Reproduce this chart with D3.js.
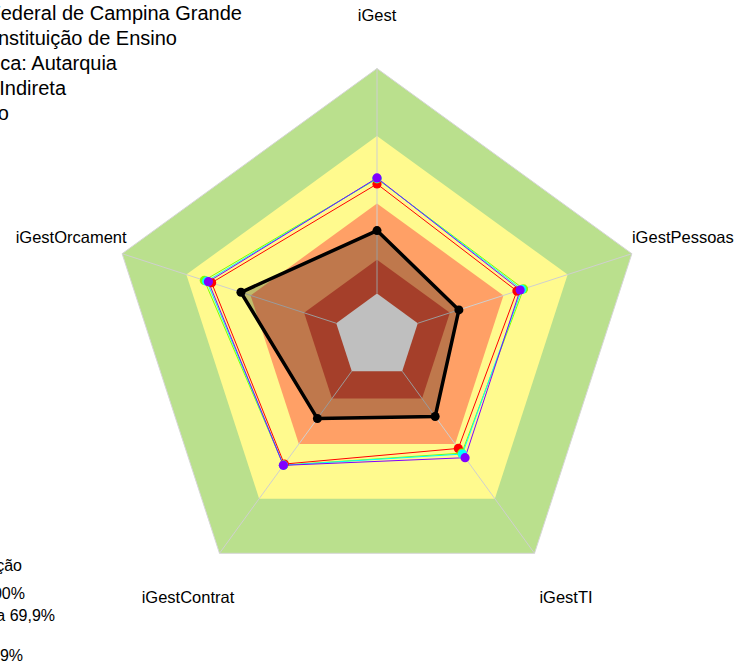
<!DOCTYPE html>
<html><head><meta charset="utf-8">
<script src="https://cdn.jsdelivr.net/npm/d3@7/dist/d3.min.js"></script>
<style>html,body{margin:0;padding:0;background:#fff;overflow:hidden}svg{display:block}</style>
</head><body><div id="chart"></div>
<script>
// ---- data ----
const axes = ["iGest", "iGestPessoas", "iGestTI", "iGestContrat", "iGestOrcament"];
const orgValues   = [28.0, 19.2, 24.9, 26.0, 44.5];
const refRed      = [48.7, 46.3, 42.4, 51.0, 58.2];
const refGreen    = [51.0, 49.4, 45.0, 51.6, 61.6];
const refCyan     = [51.2, 48.6, 45.5, 51.6, 60.5];
const refViolet   = [51.4, 47.8, 47.5, 51.7, 59.7];
const bandLimits  = [100, 70, 40, 15, 0];
const titleLines  = ["Organização: Universidade Federal de Campina Grande", "Tipo: Instituição de Ensino",
                     "Natureza Jurídica: Autarquia", "Administração Indireta", "Poder: Executivo"];
const legendLines = ["Faixa de classificação", "Aprimorado: 70 a 100%", "Intermediário: 40 a 69,9%", "Inexpressivo: 0 a 14,9%"];

// ---- styling / layout ----
const W = 736, H = 665, cx = 377, cy = 336.5, R = 268;
const bandColors = ["#BAE08D", "#FFFA8E", "#FFA066", "#DD5538", "#FFFFFF"];
const refSeries = [
  {v: refRed, c: "#FF0000"}, {v: refGreen, c: "#80FF00"},
  {v: refCyan, c: "#00FFFF"}, {v: refViolet, c: "#8000FF"}
];

const svg = d3.select("#chart").append("svg").attr("width", W).attr("height", H)
  .style("font-family", "'Liberation Sans', Arial, sans-serif");

const r = d3.scaleLinear().domain([0, 100]).range([0.16 * R, R]);
const ang = d3.scalePoint().domain(axes).range([0, 2 * Math.PI * (axes.length - 1) / axes.length]);
const pt = (a, rad) => [cx + rad * Math.sin(ang(a)), cy - rad * Math.cos(ang(a))];
const poly = vals => axes.map((a, i) => pt(a, r(vals[i])));
const line = d3.line().curve(d3.curveLinearClosed);

// bands
bandLimits.forEach((lim, k) => {
  svg.append("path").attr("d", line(axes.map(a => pt(a, r(lim)))))
    .attr("fill", bandColors[k]).attr("stroke", k === 0 ? "#D6D6D6" : "none").attr("stroke-width", 1);
});
// radial axis lines (from the inner hole outward)
axes.forEach(a => {
  const [x1, y1] = pt(a, r(0)), [x2, y2] = pt(a, r(100));
  svg.append("line").attr("x1", x1).attr("y1", y1).attr("x2", x2).attr("y2", y2)
    .attr("stroke", "#CFCFCF").attr("stroke-width", 1);
});
// org polygon fill
svg.append("path").attr("d", line(poly(orgValues))).attr("fill", "rgba(0,0,0,0.25)").attr("stroke", "none");

// reference series
refSeries.forEach(s => {
  svg.append("path").attr("d", line(poly(s.v))).attr("fill", "none").attr("stroke", s.c).attr("stroke-width", 1);
});
refSeries.forEach(s => {
  svg.selectAll(null).data(poly(s.v)).enter().append("circle")
    .attr("cx", d => d[0]).attr("cy", d => d[1]).attr("r", 4.6).attr("fill", s.c);
});
// org series
svg.append("path").attr("d", line(poly(orgValues))).attr("fill", "none").attr("stroke", "#000").attr("stroke-width", 3.5)
  .attr("stroke-linejoin", "round");
svg.selectAll(null).data(poly(orgValues)).enter().append("circle")
  .attr("cx", d => d[0]).attr("cy", d => d[1]).attr("r", 4.5).attr("fill", "#000");

// axis labels
axes.forEach(a => {
  const [x, y] = pt(a, R * 1.2);
  svg.append("text").attr("x", x).attr("y", y + 6).attr("text-anchor", "middle")
    .attr("font-size", 16.5).attr("fill", "#000").text(a);
});

// title (left-clipped in reference)
const titleEnds = [242, 177, 117, 66, 9];
titleLines.forEach((t, i) => {
  svg.append("text").attr("x", titleEnds[i]).attr("y", 20 + 25 * i).attr("text-anchor", "end")
    .attr("font-size", 20).attr("fill", "#000").text(t);
});
// legend (left-clipped in reference)
const legEnds = [22, 25, 55, 23], legY = [571, 599, 621, 661];
legendLines.forEach((t, i) => {
  svg.append("text").attr("x", legEnds[i]).attr("y", legY[i]).attr("text-anchor", "end")
    .attr("font-size", 16).attr("fill", "#000").text(t);
});
</script></body></html>
